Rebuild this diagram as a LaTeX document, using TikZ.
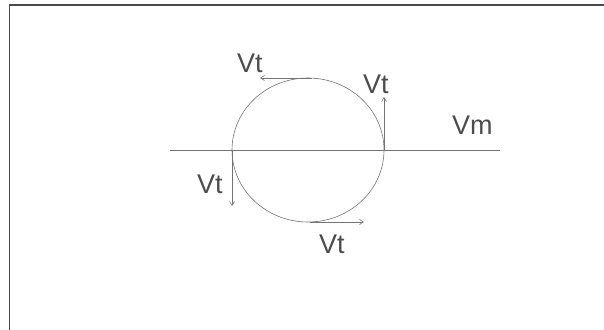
\documentclass[tikz,border=0pt]{standalone}
\usepackage{fontspec}
\setmainfont{Liberation Sans}
\usetikzlibrary{arrows.meta}

\begin{document}
\begin{tikzpicture}[x=1pt, y=-1pt,
  lbl/.style={font=\fontsize{27}{29}\selectfont, text=black!70, inner sep=0pt, anchor=base west},
  fine/.style={line width=0.6pt, draw=black!55},
  vel/.style={fine, -{Straight Barb[length=4pt, width=5pt]}},
]
\useasboundingbox (0,0) rectangle (604,329);
\clip (0,0) rectangle (604,329);

% --- frame ---
\draw[line width=1.4pt, draw=black!70] (9.5,360) -- (9.5,5) -- (640,5);

% --- axis and wheel ---
\coordinate (c) at (308,150);
\coordinate (axl) at (170,150);
\coordinate (axr) at (500,150);
\draw[fine] (axl) -- (axr);
\draw[fine] (c) ellipse [x radius=76pt, y radius=72pt];

% --- tangential velocities ---
\coordinate (top) at (312,78);
\coordinate (rgt) at (384,150);
\coordinate (lft) at (232,150);
\coordinate (bot) at (310,222);
\coordinate (topend) at (260,78);
\coordinate (rgtend) at (384,97);
\coordinate (lftend) at (232,206);
\coordinate (botend) at (364,222);

\draw[vel] (top) -- (topend);
\draw[vel] (rgt) -- (rgtend);
\draw[vel] (lft) -- (lftend);
\draw[vel] (bot) -- (botend);

\node[lbl] (vttop) at (237,72) {Vt};
\node[lbl] (vtrgt) at (363,93) {Vt};
\node[lbl] (vtlft) at (197,193) {Vt};
\node[lbl] (vtbot) at (319,253) {Vt};
\node[lbl] (vm) at (452,134) {Vm};
\end{tikzpicture}
\end{document}
